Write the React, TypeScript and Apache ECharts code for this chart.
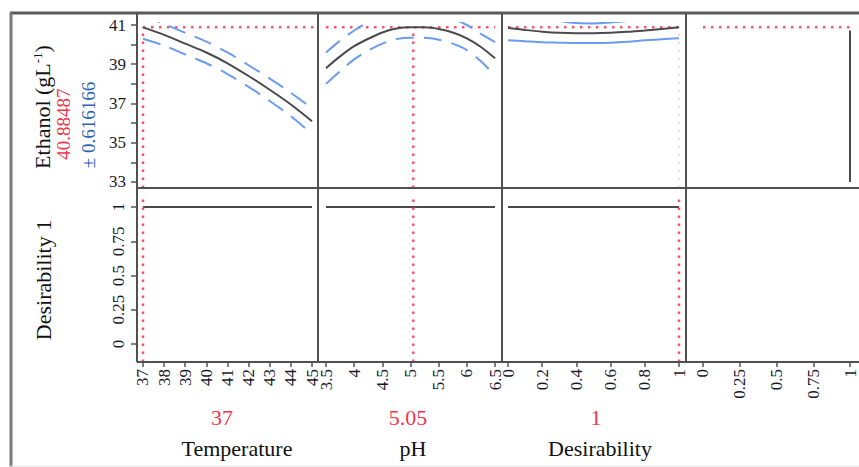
import React, { useEffect, useRef } from "react";
import * as echarts from "echarts";

// ---------- data ----------
const tempX = [37, 38, 39, 40, 41, 42, 43, 44, 45];
const tempMid = [40.88, 40.5, 40.05, 39.6, 39.05, 38.4, 37.7, 36.95, 36.1];
const tempUpper = [41.5, 41.05, 40.6, 40.15, 39.6, 38.95, 38.27, 37.55, 36.75];
const tempLower = [40.3, 39.95, 39.5, 39.05, 38.5, 37.85, 37.13, 36.35, 35.45];

const phX = [3.5, 3.75, 4, 4.25, 4.5, 4.75, 5, 5.25, 5.5, 5.75, 6, 6.25, 6.5];
const phMid = [38.8, 39.4, 39.92, 40.3, 40.62, 40.82, 40.88, 40.88, 40.8, 40.62, 40.32, 39.88, 39.3];
const phUpper = [39.6, 40.2, 40.72, 41.12, 41.3, 41.4, 41.45, 41.45, 41.42, 41.3, 41.0, 40.55, 40.13];
const phLower = [38.0, 38.65, 39.25, 39.7, 40.05, 40.28, 40.35, 40.35, 40.25, 40.05, 39.72, 39.15, 38.42];

const desX = [0, 0.1, 0.2, 0.3, 0.4, 0.5, 0.6, 0.7, 0.8, 0.9, 1];
const desMid = [40.85, 40.75, 40.66, 40.6, 40.58, 40.58, 40.6, 40.65, 40.72, 40.8, 40.88];
const desUpper = [41.45, 41.35, 41.27, 41.2, 41.1, 41.08, 41.13, 41.2, 41.27, 41.35, 41.43];
const desLower = [40.22, 40.17, 40.12, 40.1, 40.08, 40.08, 40.1, 40.15, 40.22, 40.28, 40.32];

// desirability function (desirability vs ethanol)
const desFnX = [1, 1];
const desFnY = [33.0, 40.72];

const currentTemp = 37;
const currentPh = 5.05;
const currentDes = 1;
const predicted = 40.88487;
const halfCI = 0.616166;
const desirabilityValue = 1;

const ethanolTicks = [33, 34, 35, 36, 37, 38, 39, 40, 41];
const ethanolLabels = [33, 35, 37, 39, 41];
const desirTicks = [0, 0.25, 0.5, 0.75, 1];
const tempTicks = [37, 38, 39, 40, 41, 42, 43, 44, 45];
const phTicks = [3.5, 4, 4.5, 5, 5.5, 6, 6.5];
const desXTicks = [0, 0.2, 0.4, 0.6, 0.8, 1];
const desFnTicks = [0, 0.25, 0.5, 0.75, 1];

const factorNames = ["Temperature", "pH", "Desirability"];
const factorValues = ["37", "5.05", "1"];

// ---------- layout ----------
const FONT = "'Liberation Serif', 'Times New Roman', serif";
const cols = [
  { left: 137, width: 181, min: 36.716, max: 45.284, ticks: tempTicks },
  { left: 318, width: 184, min: 3.358, max: 6.624, ticks: phTicks },
  { left: 502, width: 184, min: -0.0351, max: 1.0409, ticks: desXTicks },
  { left: 686, width: 173, min: -0.1156, max: 1.0612, ticks: desFnTicks },
];
const rows = [
  { top: 23, height: 165, min: 32.694, max: 41.102 },
  { top: 188, height: 174, min: -0.1314, max: 1.1387 },
];

const RED = "#f4566f";
const BLUE = "#6b9cf0";
const BLACK = "#4a4a4a";
const redDot = { color: RED, width: 2.5, type: [2.5, 5.5] as number[] };
const blueDash = { color: BLUE, width: 2, type: [18, 10] as number[] };
const blueSolid = { color: BLUE, width: 2, type: "solid" };
const blackLine = { color: BLACK, width: 2, type: "solid" };

const pts = (xs: number[], ys: number[]) => xs.map((x, i) => [x, ys[i]]);

export default function App() {
  const ref = useRef<HTMLDivElement>(null);
  useEffect(() => {
    if (!ref.current) return;
    const chart = echarts.init(ref.current, undefined, { renderer: "svg" });

    const grids: any[] = [];
    const xAxes: any[] = [];
    const yAxes: any[] = [];
    rows.forEach((r, ri) => {
      cols.forEach((c, ci) => {
        const g = ri * 4 + ci;
        grids.push({ left: c.left, top: r.top, width: c.width, height: r.height, containLabel: false });
        xAxes.push({
          gridIndex: g,
          type: "value",
          position: "bottom",
          min: c.min,
          max: c.max,
          axisLine: { show: false, onZero: false },
          splitLine: { show: false },
          axisTick: {
            show: ri === 1,
            customValues: c.ticks,
            length: 5,
            lineStyle: { color: "#555", width: 1.5 },
          },
          axisLabel: {
            show: ri === 1,
            customValues: c.ticks,
            rotate: 90,
            margin: 7,
            fontSize: 17,
            fontFamily: FONT,
            color: "#1a1a2a",
            formatter: (v: number) => String(v),
          },
        });
        const isLeft = ci === 0;
        yAxes.push({
          gridIndex: g,
          type: "value",
          position: "left",
          min: r.min,
          max: r.max,
          axisLine: { show: false, onZero: false },
          splitLine: { show: false },
          axisTick: {
            show: isLeft,
            customValues: ri === 0 ? ethanolTicks : desirTicks,
            length: 6,
            lineStyle: { color: "#555", width: 1.5 },
          },
          axisLabel: {
            show: isLeft,
            customValues: ri === 0 ? ethanolLabels : desirTicks,
            rotate: ri === 0 ? 0 : 90,
            margin: ri === 0 ? 11 : 10,
            fontSize: 17,
            fontFamily: FONT,
            color: "#1a1a2a",
            formatter: (v: number) => String(v),
          },
        });
      });
    });

    const series: any[] = [];
    const line = (g: number, data: number[][], lineStyle: any, extra: any = {}) =>
      series.push({
        type: "line",
        xAxisIndex: g,
        yAxisIndex: g,
        data,
        symbol: "none",
        silent: true,
        clip: true,
        lineStyle,
        ...extra,
      });

    const yTopMin = rows[0].min;
    const yBotMin = rows[1].min;

    // Panel 1 top: Temperature
    line(0, [[currentTemp, predicted], [cols[0].max, predicted]], redDot);
    line(0, [[currentTemp, yTopMin], [currentTemp, predicted]], redDot);
    line(0, pts(tempX, tempUpper), blueDash, { smooth: 0.3 });
    line(0, pts(tempX, tempLower), blueDash, { smooth: 0.3 });
    line(0, pts(tempX, tempMid), blackLine, { smooth: 0.3 });

    // Panel 2 top: pH
    line(1, [[phX[0], predicted], [phX[phX.length - 1], predicted]], redDot);
    line(1, [[currentPh, yTopMin], [currentPh, predicted]], redDot);
    line(1, pts(phX, phUpper), blueDash, { smooth: 0.3 });
    line(1, pts(phX, phLower), blueDash, { smooth: 0.3 });
    line(1, pts(phX, phMid), blackLine, { smooth: 0.3 });

    // Panel 3 top: Desirability
    line(2, [[desX[0], predicted], [desX[desX.length - 1], predicted]], redDot);
    line(2, [[currentDes, yTopMin], [currentDes, predicted]], { ...redDot, opacity: 0.25 });
    line(2, pts(desX, desUpper), blueSolid, { smooth: 0.3 });
    line(2, pts(desX, desLower), blueSolid, { smooth: 0.3 });
    line(2, pts(desX, desMid), blackLine, { smooth: 0.3 });

    // Panel 4 top: desirability function
    line(3, [[0, predicted], [desirabilityValue, predicted]], redDot);
    line(3, pts(desFnX, desFnY), blackLine);

    // Bottom row: desirability traces
    const bottom = [
      { g: 4, xs: tempX, cur: currentTemp },
      { g: 5, xs: phX, cur: currentPh },
      { g: 6, xs: desX, cur: currentDes },
    ];
    bottom.forEach((b) => {
      line(b.g, [[b.xs[0], desirabilityValue], [b.xs[b.xs.length - 1], desirabilityValue]], blackLine);
      line(b.g, [[b.cur, yBotMin], [b.cur, 1.07]], redDot);
    });

    // frames and texts
    const frameColor = "#505050";
    const L = (x1: number, y1: number, x2: number, y2: number, stroke: string, w: number) => ({
      type: "line",
      z: 100,
      silent: true,
      shape: { x1, y1, x2, y2 },
      style: { stroke, lineWidth: w },
    });
    const graphics: any[] = [
      L(10, 13, 859, 13, "#5a5a5a", 3),
      L(11, 13, 11, 467, "#7a7a7a", 3),
      L(10, 466, 859, 466, "#e4e4e4", 1),
      ...[137, 318, 502, 686].map((x) => L(x, 13, x, 362, frameColor, 2)),
      L(137, 188, 859, 188, frameColor, 2),
      L(137, 362, 859, 362, frameColor, 2),
    ];
    const T = (text: string, x: number, y: number, size: number, fill: string, rot = 0, extra: any = {}) => ({
      type: "text",
      x,
      y,
      rotation: rot,
      silent: true,
      z: 101,
      style: {
        text,
        fontSize: size,
        fontFamily: FONT,
        fill,
        align: "center",
        verticalAlign: "middle",
        ...extra,
      },
    });
    graphics.push({
      type: "text",
      x: 42,
      y: 107,
      rotation: Math.PI / 2,
      silent: true,
      z: 101,
      style: {
        text: "{a|Ethanol (gL}{s|-1}{a|)}",
        rich: {
          a: { fontSize: 22, fontFamily: FONT, fill: "#111" },
          s: { fontSize: 13, fontFamily: FONT, fill: "#111", verticalAlign: "top" },
        },
        align: "center",
        verticalAlign: "middle",
      },
    });
    graphics.push(T(predicted.toFixed(5), 63, 124, 19, "#f0364e", Math.PI / 2));
    graphics.push(T("\u00b1 " + halfCI.toFixed(6), 88, 125, 19, "#2f5fb3", Math.PI / 2));
    graphics.push(T("Desirability 1", 43, 280, 22, "#111", Math.PI / 2));
    const nameX = [237, 413, 600];
    const valX = [222, 408, 596];
    factorNames.forEach((n, i) => {
      graphics.push(T(factorValues[i], valX[i], 417, 22, "#f0364e"));
      graphics.push(T(n, nameX[i], 448, 22, "#111"));
    });

    chart.setOption({
      animation: false,
      backgroundColor: "#ffffff",
      grid: grids,
      xAxis: xAxes,
      yAxis: yAxes,
      series,
      graphic: graphics,
    });
    return () => chart.dispose();
  }, []);
  return (
    <div
      ref={ref}
      style={{ position: "fixed", left: 0, top: 0, width: 859, height: 467, background: "#fff" }}
    />
  );
}
